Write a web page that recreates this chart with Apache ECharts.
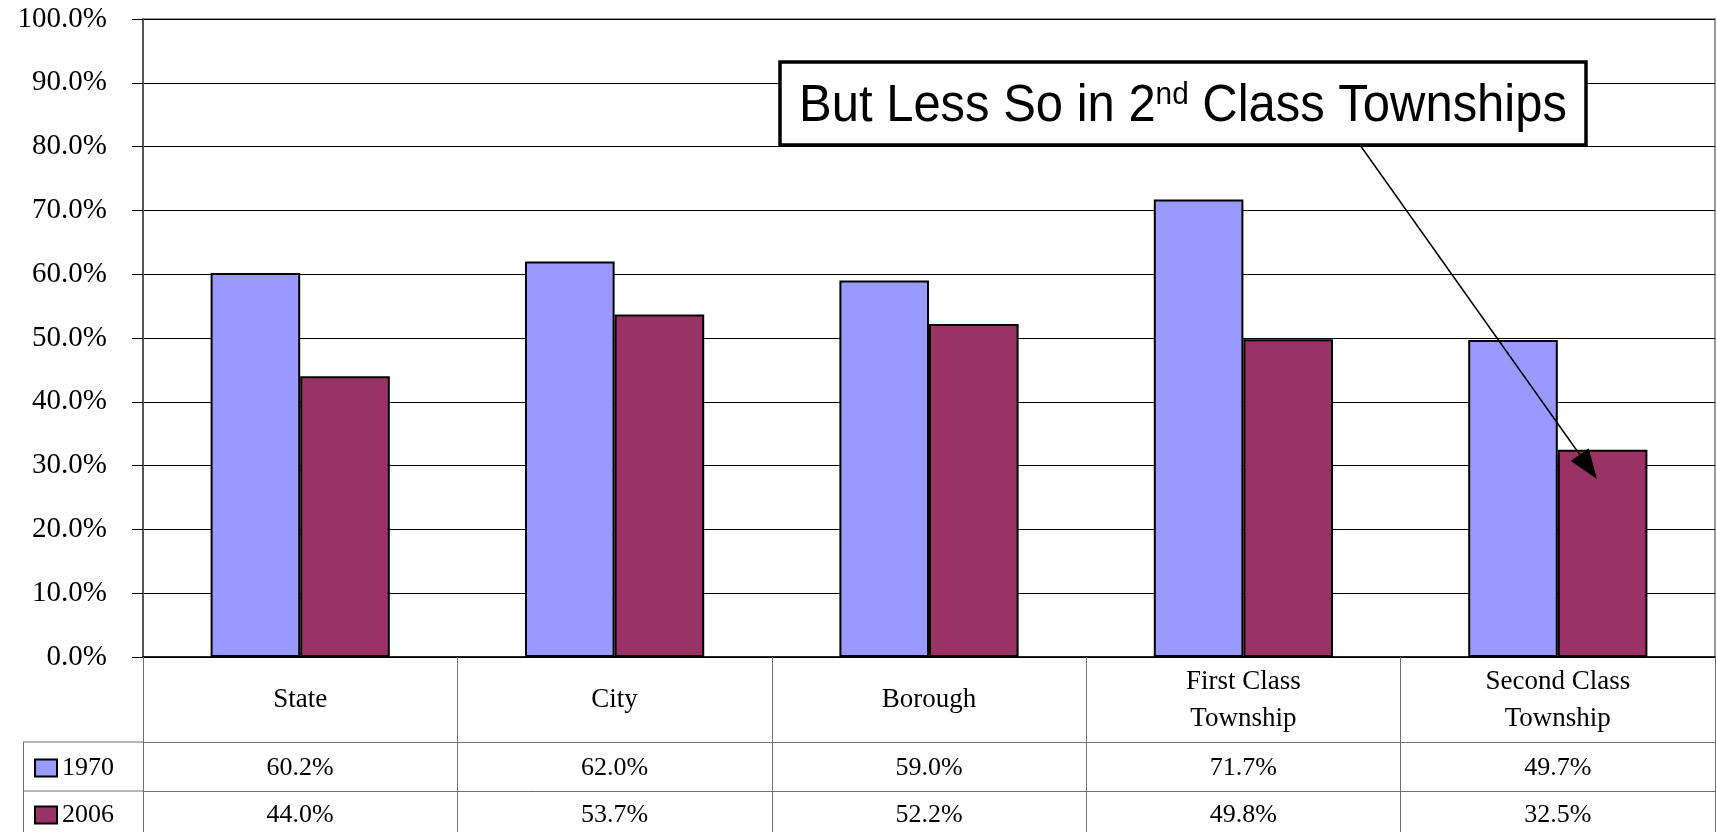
<!DOCTYPE html>
<html>
<head>
<meta charset="utf-8">
<script src="https://cdn.jsdelivr.net/npm/echarts@6/dist/echarts.min.js"></script>
<style>html,body{margin:0;padding:0;background:#fff}#c{width:1717px;height:832px}</style>
</head>
<body>
<div id="c"></div>
<script>
const categories = ['State', 'City', 'Borough', 'First Class\nTownship', 'Second Class\nTownship'];
const seriesNames = ['1970', '2006'];
const values1970 = [60.2, 62.0, 59.0, 71.7, 49.7];
const values2006 = [44.0, 53.7, 52.2, 49.8, 32.5];
const yTicks = { min: 0, max: 100, interval: 10 };

const fmt = v => v.toFixed(1) + '%';
const serif = 'Liberation Serif';
const tableLine = '#707070';

const chart = echarts.init(document.getElementById('c'));

const tableAxisBase = {
  type: 'category',
  position: 'bottom',
  boundaryGap: true,
  axisLine: { show: true, lineStyle: { color: tableLine, width: 1 } },
  axisTick: { show: true, inside: false, lineStyle: { color: tableLine, width: 1 } },
  splitLine: { show: false }
};

const legendBase = { left: 34, padding: 0, itemWidth: 22, itemHeight: 17, selectedMode: false, icon: 'rect',
  textStyle: { fontFamily: serif, fontSize: 26, color: '#000' } };

const option = {
  animation: false,
  backgroundColor: '#fff',
  grid: { left: 143, right: 2, top: 19, bottom: 175, show: true, borderColor: '#999', borderWidth: 2 },
  legend: [
    Object.assign({ data: [seriesNames[0]], top: 755 }, legendBase),
    Object.assign({ data: [seriesNames[1]], top: 802 }, legendBase)
  ],
  xAxis: [
    Object.assign({}, tableAxisBase, {
      data: categories,
      axisLine: { show: true, lineStyle: { color: '#000', width: 1.5 } },
      axisTick: { show: true, inside: false, length: 85, lineStyle: { color: tableLine, width: 1 } },
      axisLabel: { interval: 0, margin: 43, verticalAlign: 'middle', fontFamily: serif, fontSize: 27, lineHeight: 37, color: '#000', align: 'center' }
    }),
    Object.assign({}, tableAxisBase, {
      data: values1970.map(fmt),
      offset: 85,
      axisTick: { show: true, inside: false, length: 49, lineStyle: { color: tableLine, width: 1 } },
      axisLabel: { interval: 0, margin: 26, verticalAlign: 'middle', fontFamily: serif, fontSize: 26, color: '#000' }
    }),
    Object.assign({}, tableAxisBase, {
      data: values2006.map(fmt),
      offset: 134,
      axisTick: { show: true, inside: false, length: 50, lineStyle: { color: tableLine, width: 1 } },
      axisLabel: { interval: 0, margin: 24, verticalAlign: 'middle', fontFamily: serif, fontSize: 26, color: '#000' }
    })
  ],
  yAxis: {
    type: 'value',
    min: yTicks.min, max: yTicks.max, interval: yTicks.interval,
    axisLine: { show: true, lineStyle: { color: '#555', width: 2 } },
    axisTick: { show: true, inside: false, length: 11, lineStyle: { color: '#000', width: 1 } },
    axisLabel: { margin: 36, fontFamily: serif, fontSize: 29, color: '#000', formatter: v => fmt(v) },
    splitLine: { show: true, lineStyle: { color: '#000', width: 1 } }
  },
  series: [
    { name: seriesNames[0], type: 'bar', xAxisIndex: 0, data: values1970, barGap: '0%', barCategoryGap: '43%',
      itemStyle: { color: '#9999FF', borderColor: '#000', borderWidth: 2 } },
    { name: seriesNames[1], type: 'bar', xAxisIndex: 0, data: values2006, barGap: '0%', barCategoryGap: '43%',
      itemStyle: { color: '#993366', borderColor: '#000', borderWidth: 2 } }
  ]
};
chart.setOption(option);

// Decoration: legend column borders and annotation
const tip = [1597, 479], tail = [1360, 145];
const dx = tip[0] - tail[0], dy = tip[1] - tail[1];
const L = Math.hypot(dx, dy), ux = dx / L, uy = dy / L;
const headLen = 30, headW = 11;
const bx = tip[0] - ux * headLen, by = tip[1] - uy * headLen;
const headPts = [tip, [bx - uy * headW, by + ux * headW], [bx + uy * headW, by - ux * headW]];

chart.setOption({
  graphic: [
    { type: 'line', z: 50, shape: { x1: 23, y1: 742, x2: 143, y2: 742 }, style: { stroke: tableLine, lineWidth: 1 } },
    { type: 'line', z: 50, shape: { x1: 23, y1: 791, x2: 143, y2: 791 }, style: { stroke: tableLine, lineWidth: 1 } },
    { type: 'line', z: 50, shape: { x1: 23.5, y1: 742, x2: 23.5, y2: 832 }, style: { stroke: tableLine, lineWidth: 1 } },
    { type: 'line', z: 100, shape: { x1: tail[0], y1: tail[1], x2: bx, y2: by }, style: { stroke: '#000', lineWidth: 1.5 } },
    { type: 'polygon', z: 100, shape: { points: headPts }, style: { fill: '#000' } },
    { type: 'rect', z: 100, shape: { x: 780, y: 62, width: 806, height: 83 }, style: { fill: '#fff', stroke: '#000', lineWidth: 3.5 } },
    { type: 'text', z: 101, x: 1183, y: 107, scaleX: 0.96,
      style: {
        text: '{a|But Less So in 2}{s|nd}{a| Class Townships}',
        align: 'center', verticalAlign: 'middle',
        rich: {
          a: { fontFamily: 'Liberation Sans', fontSize: 51, fill: '#000', lineHeight: 54 },
          s: { fontFamily: 'Liberation Sans', fontSize: 31, fill: '#000', lineHeight: 54, verticalAlign: 'top', padding: [0, 0, 20, 0] }
        }
      }
    }
  ]
});
</script>
</body>
</html>
